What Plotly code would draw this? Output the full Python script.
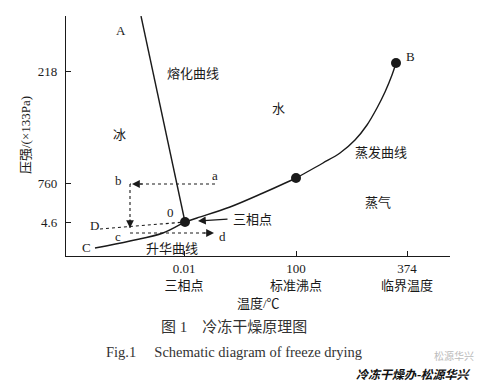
import plotly.graph_objects as go

# Schematic coordinates (diagram units; axis spans 0..384 by 0..240)
X_MAX, Y_MAX = 384, 240
x_tick_vals = [118, 230, 341, 384]
x_tick_text = ["0.01<br>三相点", "100<br>标准沸点", "374<br>临界温度", ""]
y_tick_vals = [34, 73, 185, 240]
y_tick_text = ["4.6", "760", "218", ""]

melt_x = [75, 119]
melt_y = [240, 34]
evap_x = [119, 131, 164, 197, 230, 241, 257, 274, 289, 301, 311, 319, 326, 330]
evap_y = [34, 38, 49, 63, 78, 84, 93, 103, 116, 131, 148, 164, 181, 193]
subl_x = [29, 64, 97, 117, 119]
subl_y = [8, 15, 23, 33, 34]
points_x = [119, 230, 330]
points_y = [34, 78, 193]

# dotted process path a -> b -> c -> d and line D -> O
path_ab_x = [149, 64]
path_ab_y = [72, 72]
path_bc_x = [64, 64]
path_bc_y = [72, 28]
path_cd_x = [64, 147]
path_cd_y = [23, 23]
line_D_x = [34, 119]
line_D_y = [27, 34]

# arrowheads: (tip x, tip y, tail x, tail y)
arrow_heads = [
    (66, 72, 78, 72),
    (64, 28, 64, 38),
    (148, 23, 136, 23),
]
tp_arrow = (132, 35, 163, 37)

labels = [
    ("A", 55, 226), ("熔化曲线", 127, 183), ("冰", 53, 122), ("水", 212, 148),
    ("B", 344, 200), ("蒸发曲线", 315, 104), ("蒸气", 312, 54),
    ("a", 149, 81), ("b", 52, 76), ("0", 104, 44), ("D", 28, 31),
    ("c", 52, 20), ("d", 156, 20), ("C", 20, 9), ("升华曲线", 106, 8),
    ("三相点", 186, 37),
]

FONT = "Liberation Serif, Noto Sans CJK SC, serif"
INK = "#1a1a1a"


def px(x):
    return x / X_MAX


def py(y):
    return y / Y_MAX


fig = go.Figure()
for xs, ys in [(melt_x, melt_y), (evap_x, evap_y), (subl_x, subl_y)]:
    fig.add_trace(go.Scatter(x=xs, y=ys, mode="lines", line=dict(color=INK, width=1.4, shape="spline"),
                             hoverinfo="skip", showlegend=False, cliponaxis=False))
for xs, ys in [(path_ab_x, path_ab_y), (path_bc_x, path_bc_y), (path_cd_x, path_cd_y), (line_D_x, line_D_y)]:
    fig.add_trace(go.Scatter(x=xs, y=ys, mode="lines", line=dict(color=INK, width=1.1, dash="dot"),
                             hoverinfo="skip", showlegend=False, cliponaxis=False))
fig.add_trace(go.Scatter(x=points_x, y=points_y, mode="markers", marker=dict(color=INK, size=10),
                         hoverinfo="skip", showlegend=False, cliponaxis=False))

for tx, ty, sx, sy in arrow_heads:
    fig.add_annotation(x=tx, y=ty, ax=sx, ay=sy, xref="x", yref="y", axref="x", ayref="y",
                       text="", showarrow=True, arrowhead=2, arrowsize=1.3, arrowwidth=1.2, arrowcolor=INK)
fig.add_annotation(x=tp_arrow[0], y=tp_arrow[1], ax=tp_arrow[2], ay=tp_arrow[3], xref="x", yref="y",
                   axref="x", ayref="y", text="", showarrow=True, arrowhead=2, arrowsize=1.3,
                   arrowwidth=1.2, arrowcolor=INK)

for t, x, y in labels:
    fig.add_annotation(x=x, y=y, xref="x", yref="y", text=t, showarrow=False,
                       font=dict(family=FONT, size=13, color=INK))

outer = [
    ("温度/℃", 192, -47, 13, INK, FONT, 0),
    ("压强/(×133Pa)", -41, 121, 13, INK, FONT, -90),
    ("图 1　冷冻干燥原理图", 168, -70, 15, "#333", FONT, 0),
    ("Fig.1　 Schematic diagram of freeze drying", 168, -96, 14.5, "#333", FONT, 0),
    ("松源华兴", 388, -99, 10, "#bbb", "Noto Sans CJK SC", 0),
    ("<b><i>冷冻干燥办-松源华兴</i></b>", 347, -117, 12, "#111", "Noto Sans CJK SC", 0),
]
for t, x, y, s, c, f, ang in outer:
    fig.add_annotation(x=px(x), y=py(y), xref="paper", yref="paper", xanchor="center", yanchor="middle",
                       text=t, showarrow=False, textangle=ang, font=dict(family=f, size=s, color=c))

# page body adds an 8px offset; figure is sized to compensate
fig.update_layout(
    width=485, height=376,
    margin=dict(l=58, r=43, t=8, b=128),
    paper_bgcolor="white", plot_bgcolor="white",
    xaxis=dict(range=[0, X_MAX], tickvals=x_tick_vals, ticktext=x_tick_text, ticks="inside", ticklen=5,
               tickcolor=INK, showline=True, linecolor=INK, linewidth=1.3, showgrid=False, zeroline=False,
               tickfont=dict(family=FONT, size=13, color=INK), fixedrange=True, automargin=False),
    yaxis=dict(range=[0, Y_MAX], tickvals=y_tick_vals, ticktext=y_tick_text, ticks="inside", ticklen=5,
               tickcolor=INK, showline=True, linecolor=INK, linewidth=1.3, showgrid=False, zeroline=False,
               tickfont=dict(family=FONT, size=13, color=INK), ticklabelstandoff=5, fixedrange=True,
               automargin=False),
)

fig.write_html("out.html")
